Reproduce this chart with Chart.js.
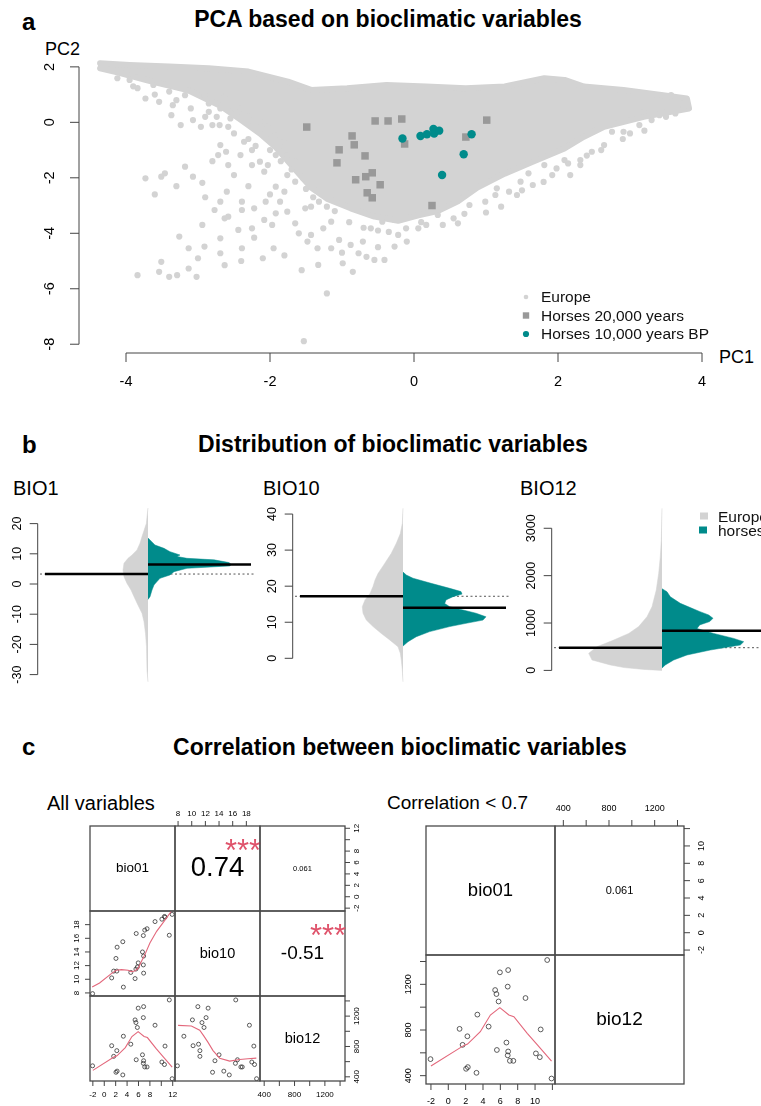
<!DOCTYPE html>
<html>
<head>
<meta charset="utf-8">
<script src="https://cdn.jsdelivr.net/npm/chart.js@4.4.1/dist/chart.umd.min.js"></script>
<style>
  html, body { margin: 0; padding: 0; background: #fff; }
  body { position: relative; width: 761px; height: 1106px; overflow: hidden;
         font-family: "Liberation Sans", Arial, sans-serif; }
  canvas { position: absolute; }
  .lbl { position: absolute; white-space: nowrap; color: #000; }
</style>
</head>
<body>
<script>
// ===== DATA =====

// --- a: PCA scores ---
// dense core of the European cloud (outline)
const europeCorePC1 = [-4.36, -3.95, -3.40, -2.85, -2.30, -1.75, -1.43, -0.93, -0.38, 0.17, 0.72, 1.26, 1.81, 2.09, 2.36, 2.91, 3.46, 3.79, 3.82,
  3.19, 2.64, 2.36, 2.09, 1.65, 1.26, 0.88, 0.61, 0.33, 0.06, -0.22, -0.55, -0.88, -1.21, -1.43, -1.65, -1.92, -2.14, -2.41, -2.69, -3.13, -3.68, -4.12, -4.36];
const europeCorePC2 = [2.13, 2.07, 2.01, 1.95, 1.83, 1.47, 1.17, 1.23, 1.35, 1.29, 1.23, 1.29, 1.59, 1.53, 1.29, 1.17, 0.98, 0.86, 0.50,
  0.20, -0.16, -0.52, -0.94, -1.42, -1.85, -2.35, -2.85, -3.20, -3.35, -3.55, -3.40, -3.10, -2.75, -2.35, -1.70, -0.90, -0.40, 0.10, 0.60, 1.15, 1.50, 1.80, 1.95];
// scattered European cells outside the core
const europePC1 = [-4.12, -3.84, -3.73, -3.54, -3.35, -3.37, -3.24, -3.07, -2.96, -2.80, -2.85, -2.69, -2.58, -2.55, -3.18, -3.51, -3.46, -3.73, -3.07, -2.94,
  -2.69, -2.72, -2.61, -2.41, -2.58, -2.36, -2.25, -2.14, -1.92, -2.03, -2.25, -2.08, -1.92, -1.76, -1.65, -1.54, -1.86, -2.06, -2.22, -2.39,
  -2.39, -2.69, -2.77, -2.58, -2.63, -2.94, -3.26, -3.13, -2.91, -2.69, -2.69, -2.44, -2.25, -2.08, -1.92, -1.76, -1.65, -1.51, -1.43, -1.32,
  -1.21, -1.15, -1.26, -1.43, -1.48, -1.34, -1.15, -1.04, -0.88, -0.77, -0.66, -0.55, -0.41, -0.71, -0.60, -0.44, -0.27, -0.22, -0.27, -0.11,
  0.06, 0.17, 0.33, 0.55, 0.61, 0.77, 0.99, 1.21, 1.13, 1.43, 1.32, 1.65, 1.92, 2.17, 2.31, 2.31, 2.14, 1.48, 1.15, -0.99,
  -0.85, -1.33, -1.56, -3.29, -3.40, -3.54, -3.84, -3.51, -3.13, -3.02, -2.63, -1.97, -1.95, -2.39, -2.22, -1.21, -1.53, 2.75, 2.91, 3.13,
  3.30, 3.41, 3.57, 3.74, 3.63, 3.19, 2.64, 2.47, 2.09, 1.98, 1.59, 1.81, -3.95, -3.62, -3.40, -3.18, -2.91, -2.63, -2.41, -2.30,
  -2.14, -2.03, -1.92, -1.81, -1.76, -1.65, -2.85, -2.74,
  -3.90, -3.60, -3.30, -3.10, -2.90, -2.70, -2.50, -2.30, -2.20, -2.00, -1.85, -1.70, -1.50, -1.40, -1.10, -0.90, -0.70, -0.50, -0.35, -0.10,
  0.10, 0.40, 0.70, 1.00, 1.50, 1.80, 2.40, 2.60, 2.90, 3.20, 3.50, 3.00, -2.80, -2.50, -2.30, -2.00, -1.80, -2.60, -3.30, -3.60,
  -2.90, -1.60, -1.80, -1.00, -0.50, -2.10, -2.40, -3.00];
const europePC2 = [1.59, 1.23, 0.86, 0.74, 0.62, 0.26, -0.10, 0.08, -0.16, -0.10, 0.68, 0.50, -0.16, 0.14, -1.60, -1.96, -1.84, -2.02, -1.96, -2.18,
  -0.82, -1.18, -1.06, -1.18, -1.54, -0.70, -1.00, -1.42, -1.18, -1.54, -1.54, -1.78, -2.32, -1.90, -2.14, -2.02, -2.86, -2.86, -3.10, -3.16,
  -2.86, -2.86, -3.16, -3.40, -3.46, -3.70, -4.12, -4.54, -4.48, -4.72, -4.18, -3.88, -3.82, -3.52, -3.28, -3.22, -3.64, -3.10, -3.04, -2.86,
  -3.04, -3.58, -3.82, -4.06, -4.30, -4.54, -4.54, -4.24, -4.42, -4.72, -4.85, -4.96, -4.96, -4.30, -3.82, -3.58, -3.52, -4.06, -4.48, -3.82,
  -3.82, -3.70, -3.34, -3.46, -3.64, -2.98, -2.86, -3.04, -2.62, -2.62, -2.50, -2.26, -1.90, -1.90, -1.54, -1.36, -1.48, -2.14, -2.38, -5.08,
  -5.39, -5.14, -5.33, -5.51, -5.57, -5.39, -5.51, -5.03, -5.27, -5.57, -5.15, -3.70, -4.54, -4.54, -4.16, -6.17, -7.89, -0.34, -0.34, -0.10,
  0.08, 0.26, 0.98, 0.50, 0.32, 0.38, -0.82, -1.06, -1.36, -1.66, -1.84, -1.54, 1.53, 1.35, 1.11, 0.98, 0.98, 0.92, 0.50, 0.20,
  0.02, -0.16, -0.46, -0.70, -1.18, -1.42, 0.38, 0.20,
  1.30, 1.00, 0.80, 0.50, 0.20, -0.10, -0.40, -0.60, -0.85, -1.00, -1.40, -1.70, -2.40, -2.70, -3.20, -3.60, -3.80, -3.90, -3.95, -4.30,
  -3.60, -3.70, -3.30, -3.25, -2.45, -2.15, -1.20, -1.00, -0.60, -0.30, 0.20, -0.40, -1.40, -1.90, -2.30, -2.60, -2.50, -2.50, -2.30, -2.60,
  -2.70, -4.00, -4.80, -4.70, -4.50, -4.90, -5.00, -4.90];
const horses20kPC1 = [-1.49, -0.54, -0.36, -0.17, -0.86, -0.83, -1.04, -0.68, -1.07, -0.81, -0.67, -0.58, -0.65, -0.58, -0.47, -0.13, 0.72, 1.01, 0.25];
const horses20kPC2 = [-0.17, 0.05, 0.05, 0.12, -0.49, -0.81, -0.99, -1.21, -1.46, -2.07, -1.96, -1.82, -2.54, -2.72, -2.25, -0.78, -0.53, 0.08, -3.00];
const horses10kPC1 = [-0.16, 0.09, 0.18, 0.27, 0.28, 0.35, 0.80, 0.69, 0.39];
const horses10kPC2 = [-0.58, -0.49, -0.43, -0.24, -0.40, -0.30, -0.43, -1.15, -1.90];
const pcaLegendLabels = ['Europe', 'Horses 20,000 years', 'Horses 10,000 years BP'];
const pc1Ticks = [-4, -2, 0, 2, 4];
const pc2Ticks = [-8, -6, -4, -2, 0, 2];

// --- b: split density (half-width, relative units) per value ---
const bio1EuropeVal  = [25.2, 20, 15.7, 13.5, 11.3, 9.6, 8.5, 6.9, 4.6, 2.4, 0.2, -2, -4.2, -7, -9.7, -12.5, -16.4, -20.8, -28.5, -32.4];
const bio1EuropeDens = [0, 1.7, 6, 8, 11, 16, 20, 24, 25, 24, 21, 17, 14, 10, 6, 4, 2.5, 1.5, 1, 0];
const bio1HorseVal   = [15.2, 14.6, 12.9, 11.8, 10.7, 9.6, 9.1, 8.5, 8.0, 7.1, 6.5, 6.0, 5.2, 4.1, 3.0, 1.9, 0.8, -0.3, -2.0, -4.2, -5.1];
const bio1HorseDens  = [0, 2, 7, 16, 22, 32, 29, 39, 66, 81, 83, 82, 39, 26, 22, 12, 9, 6, 4, 2, 0];
const bio10EuropeVal  = [41.6, 37.4, 34.6, 31.9, 29.1, 26.3, 23.5, 21.7, 19.9, 18.0, 16.2, 14.3, 12.5, 10.6, 8.8, 6.9, 5.1, 3.2, 1.4, -0.5, -3.2, -6.5];
const bio10EuropeDens = [0, 0.7, 2.7, 6.7, 11.7, 18.3, 25, 28, 30, 33, 38, 40.7, 40, 36.7, 30, 21.7, 13.3, 5, 2.7, 1.7, 0.7, 0];
const bio10HorseVal   = [23.9, 23.1, 22.2, 20.8, 19.4, 18.5, 17.8, 17.1, 16.2, 15.2, 14.3, 13.4, 12.5, 11.5, 10.6, 9.7, 8.8, 7.4, 6.0, 4.6, 3.4];
const bio10HorseDens  = [0, 3.3, 10, 28, 46.7, 58, 59, 50, 43, 41.7, 46.7, 60, 73, 83, 80, 63, 46.7, 26.7, 13.3, 5, 0];
const bio12EuropeVal  = [3420, 2750, 2400, 2050, 1700, 1345, 1135, 925, 780, 640, 500, 360, 220, 115, 60, 20, 0];
const bio12EuropeDens = [0, 0.7, 1.7, 3.3, 5.7, 10, 15, 23.3, 33.3, 48.3, 65, 73.3, 70, 51.7, 38, 18, 0];
const bio12HorseVal   = [1725, 1660, 1555, 1415, 1310, 1240, 1170, 1100, 1030, 960, 885, 780, 675, 605, 535, 430, 325, 220, 115, 50];
const bio12HorseDens  = [0, 5, 8.3, 18.3, 30, 38, 46.7, 51, 47.7, 37.7, 35, 51.7, 71.7, 81.7, 78.3, 48.3, 25, 11.7, 3.3, 0];
const europeMeans = [3.3, 17.2, 479];
const horseMeans  = [6.5, 14.0, 838];
const violinLegendLabels = ['Europe', 'horses'];
const bio1ViolinTicks  = [-30, -20, -10, 0, 10, 20];
const bio10ViolinTicks = [0, 10, 20, 30, 40];
const bio12ViolinTicks = [0, 1000, 2000, 3000];

// --- c: horse sites ---
const bio01 = [-2.05, 1.3, 1.65, 2.05, 2.2, 2.25, 3.25, 3.35, 4.65, 5.4, 5.55, 5.6, 5.8, 5.95, 6.7, 6.85, 6.85, 6.9, 6.9, 7.1, 7.5, 8.9, 10.1, 10.55, 10.65, 11.4, 11.9];
const bio10 = [7.9, 10.2, 11.2, 13.05, 11.2, 14.7, 15.5, 8.85, 11.0, 10.1, 11.5, 16.7, 11.8, 12.4, 14.0, 12.1, 16.4, 10.9, 13.4, 17.2, 17.4, 18.45, 18.8, 19.2, 19.1, 16.45, 19.5];
const bio12 = [545, 810, 670, 460, 745, 475, 425, 935, 830, 1150, 1115, 625, 1050, 1305, 690, 1180, 578, 1325, 612, 530, 530, 1080, 595, 562, 805, 1413, 375];
// smoothers as drawn in the panels
const smooth0110X = [-2.12, -0.82, 1.24, 2.12, 3.0, 4.18, 4.76, 5.35, 5.94, 6.53, 7.12, 8.0, 9.18, 10.35, 11.53, 11.82];
const smooth0110Y = [8.88, 9.46, 10.83, 11.32, 11.41, 11.32, 11.12, 11.22, 11.61, 12.63, 13.61, 15.32, 17.02, 18.34, 19.71, 20.1];
const smooth0112X = [-2.0, 1.76, 2.22, 3.69, 4.85, 5.94, 6.98, 7.56, 9.1, 10.27, 11.9];
const smooth0112Y = [485, 663, 677, 785, 931, 996, 931, 917, 771, 669, 528];
const smooth1012X = [8.0, 9.95, 11.17, 11.76, 12.39, 13.12, 14.1, 15.56, 17.02, 18.24, 19.46];
const smooth1012Y = [1078, 1070, 1014, 940, 854, 746, 646, 607, 629, 638, 646];
const corrLabels = ['0.74', '0.061', '-0.51'];     // bio01-bio10, bio01-bio12, bio10-bio12
const corrStars  = ['***', '', '***'];
const bio01Ticks = [-2, 0, 2, 4, 6, 8, 10, 12];
const bio01TickLabelsA = ['-2', '0', '2', '4', '6', '8', '', '12'];
const bio01TickLabelsB = ['-2', '0', '2', '4', '6', '8', '10', ''];
const bio10Ticks = [8, 10, 12, 14, 16, 18];
const bio12Ticks = [400, 600, 800, 1000, 1200, 1400];
const bio12TickLabels = ['400', '', '800', '', '1200', ''];

// ===== STYLE =====
const FONT = '"Liberation Sans", Arial, sans-serif';
const LIGHT = '#D3D3D3';
const TEAL = '#008B8B';
const SQUARE = '#999999';
const AXIS = '#444444';
const SMOOTH = '#E3677B';
const STAR = '#DF536B';
Chart.defaults.font.family = FONT;

// ===== HELPERS =====
function xy(xs, ys) { return xs.map((x, i) => ({ x, y: ys[i] })); }
function halfViolin(vals, dens, side) { return vals.map((v, i) => ({ x: side * dens[i], y: v })); }

function addText(text, x, baseline, size, opts = {}) {
  const d = document.createElement('div');
  d.className = 'lbl';
  d.textContent = text;
  d.style.font = `${opts.bold ? 'bold ' : ''}${size}px ${FONT}`;
  d.style.lineHeight = '0';
  d.style.left = x + 'px';
  d.style.top = (baseline - 0.3465 * size) + 'px';
  if (opts.center) d.style.transform = 'translateX(-50%)';
  document.body.appendChild(d);
}

function addCanvas(left, top, width, height) {
  const c = document.createElement('canvas');
  c.width = width; c.height = height;
  c.style.left = left + 'px'; c.style.top = top + 'px';
  c.style.width = width + 'px'; c.style.height = height + 'px';
  document.body.appendChild(c);
  return c;
}

function baseOptions(padding, xr, yr) {
  return {
    responsive: false, animation: false, events: [],
    layout: { padding },
    plugins: { legend: { display: false }, tooltip: { enabled: false } },
    scales: {
      x: { type: 'linear', display: false, min: xr[0], max: xr[1] },
      y: { type: 'linear', display: false, min: yr[0], max: yr[1] },
    },
  };
}

// R-like axes: line only across the tick range, rotated labels on vertical sides
function rAxes(list) {
  return {
    id: 'rAxes',
    afterDatasetsDraw(chart) {
      const { ctx, chartArea: a } = chart;
      list.forEach(ax => {
        const vertical = ax.side === 'left' || ax.side === 'right';
        const scale = chart.scales[vertical ? 'y' : 'x'];
        const dir = (ax.side === 'left' || ax.side === 'top') ? -1 : 1;
        const base = ax.side === 'left' ? a.left - ax.offset
          : ax.side === 'right' ? a.right + ax.offset
          : ax.side === 'top' ? a.top - ax.offset : a.bottom + ax.offset;
        const pos = ax.ticks.map(v => scale.getPixelForValue(v));
        ctx.save();
        ctx.strokeStyle = AXIS;
        ctx.lineWidth = ax.lineWidth || 1;
        ctx.beginPath();
        if (ax.line !== false) {
          if (vertical) { ctx.moveTo(base, pos[0]); ctx.lineTo(base, pos[pos.length - 1]); }
          else { ctx.moveTo(pos[0], base); ctx.lineTo(pos[pos.length - 1], base); }
        }
        pos.forEach(p => {
          if (vertical) { ctx.moveTo(base, p); ctx.lineTo(base + dir * ax.tick, p); }
          else { ctx.moveTo(p, base); ctx.lineTo(p, base + dir * ax.tick); }
        });
        ctx.stroke();
        ctx.fillStyle = '#000';
        ctx.font = ax.font;
        ctx.textAlign = 'center';
        ctx.textBaseline = 'middle';
        pos.forEach((p, i) => {
          const lab = ax.labels[i];
          if (!lab) return;
          if (vertical) {
            ctx.save();
            ctx.translate(base + dir * ax.gap, p);
            ctx.rotate(-Math.PI / 2);
            ctx.fillText(lab, 0, 0);
            ctx.restore();
          } else {
            ctx.fillText(lab, p, base + dir * ax.gap);
          }
        });
        ctx.restore();
      });
    },
  };
}

// text placed in panel (0..1) coordinates, like R's usr = c(0,1,0,1)
function cellText(items) {
  return {
    id: 'cellText',
    afterDatasetsDraw(chart) {
      const { ctx, chartArea: a } = chart;
      ctx.save();
      ctx.textAlign = 'center';
      ctx.textBaseline = 'middle';
      items.forEach(t => {
        if (!t.text) return;
        ctx.font = `${t.size}px ${FONT}`;
        ctx.fillStyle = t.color || '#000';
        const x = a.left + t.fx * (a.right - a.left);
        const y = a.bottom - t.fy * (a.bottom - a.top) + (t.dy || 0);
        ctx.fillText(t.text, x, y);
      });
      ctx.restore();
    },
  };
}

const cellFrame = {
  id: 'cellFrame',
  afterDatasetsDraw(chart) {
    const { ctx, chartArea: a } = chart;
    ctx.save();
    ctx.strokeStyle = '#4a4a4a';
    ctx.lineWidth = 1.3;
    ctx.strokeRect(a.left, a.top, a.right - a.left, a.bottom - a.top);
    ctx.restore();
  },
};

// ===== TITLES =====
addText('a', 22, 30, 24, { bold: true });
addText('PCA based on bioclimatic variables', 388, 27, 23, { bold: true, center: true });
addText('PC2', 45, 55, 18);
addText('PC1', 719, 363, 18);
addText('b', 22, 453, 24, { bold: true });
addText('Distribution of bioclimatic variables', 393, 452, 23, { bold: true, center: true });
addText('BIO1', 13, 495, 20);
addText('BIO10', 263, 495, 20);
addText('BIO12', 520, 495, 20);
addText('c', 22, 755, 24, { bold: true });
addText('Correlation between bioclimatic variables', 400, 755, 23, { bold: true, center: true });
addText('All variables', 47, 810, 20);
addText('Correlation < 0.7', 387, 810, 19);

// ===== a: PCA =====
const pcaLegend = {
  id: 'pcaLegend',
  afterDraw(chart) {
    const ctx = chart.ctx;
    const rows = [297, 315.5, 334];
    ctx.save();
    ctx.font = `15.5px ${FONT}`;
    ctx.textBaseline = 'alphabetic';
    ctx.fillStyle = LIGHT;
    ctx.beginPath(); ctx.arc(526, rows[0], 2.3, 0, Math.PI * 2); ctx.fill();
    ctx.fillStyle = SQUARE;
    ctx.fillRect(522.8, rows[1] - 3.2, 6.4, 6.4);
    ctx.fillStyle = TEAL;
    ctx.beginPath(); ctx.arc(526, rows[2], 3.1, 0, Math.PI * 2); ctx.fill();
    ctx.fillStyle = '#111';
    pcaLegendLabels.forEach((t, i) => ctx.fillText(t, 541, rows[i] + 5));
    ctx.restore();
  },
};

new Chart(addCanvas(0, 0, 761, 400), {
  type: 'scatter',
  data: {
    datasets: [
      { label: pcaLegendLabels[2], data: xy(horses10kPC1, horses10kPC2), pointStyle: 'circle', pointRadius: 4.2, backgroundColor: TEAL, borderWidth: 0 },
      { label: pcaLegendLabels[1], data: xy(horses20kPC1, horses20kPC2), pointStyle: 'rect', pointRadius: 5.3, backgroundColor: SQUARE, borderWidth: 0 },
      { label: pcaLegendLabels[0], data: xy(europePC1, europePC2), pointRadius: 3.1, backgroundColor: LIGHT, borderWidth: 0 },
      { type: 'line', data: xy(europeCorePC1, europeCorePC2), fill: 'shape', backgroundColor: LIGHT, borderColor: LIGHT,
        borderWidth: 6, borderJoinStyle: 'round', borderCapStyle: 'round', pointRadius: 0, tension: 0 },
    ],
  },
  options: baseOptions({ left: 90, right: 41, top: 53, bottom: 53 }, [-4.5, 4.25], [-8.1, 2.5]),
  plugins: [
    rAxes([
      { side: 'left', ticks: pc2Ticks, labels: pc2Ticks.map(String), offset: 11, tick: 9, gap: 29, font: `14.5px ${FONT}` },
      { side: 'bottom', ticks: pc1Ticks, labels: pc1Ticks.map(String), offset: 6, tick: 9, gap: 29, font: `14.5px ${FONT}` },
    ]),
    pcaLegend,
  ],
});

// ===== b: split violins =====
const BEAN = 103;
const OVERALL = 108;

function shape(data, color) {
  return { type: 'line', data, fill: 'shape', backgroundColor: color, borderColor: color, borderWidth: 0.5, pointRadius: 0, tension: 0 };
}
function hline(x0, x1, y, color, width, dash) {
  return { type: 'line', data: [{ x: x0, y }, { x: x1, y }], borderColor: color, borderWidth: width, borderDash: dash || [], pointRadius: 0, fill: false };
}

const violinLegend = {
  id: 'violinLegend',
  afterDraw(chart) {
    const ctx = chart.ctx;
    ctx.save();
    ctx.font = `15.5px ${FONT}`;
    ctx.fillStyle = LIGHT; ctx.fillRect(186, 22.5, 8, 7);
    ctx.fillStyle = TEAL; ctx.fillRect(185, 36.5, 8, 7);
    ctx.fillStyle = '#111';
    ctx.fillText(violinLegendLabels[0], 204, 31.5);
    ctx.fillText(violinLegendLabels[1], 204, 46);
    ctx.restore();
  },
};

function drawViolin(cfg) {
  const datasets = [
    hline(-BEAN, 0, cfg.meanEurope, '#000', 2.5),
    hline(0, BEAN, cfg.meanHorse, '#000', 2.5),
    shape(halfViolin(cfg.horseVal, cfg.horseDens, 1), TEAL),
    shape(halfViolin(cfg.europeVal, cfg.europeDens, -1), LIGHT),
    hline(-OVERALL, OVERALL, cfg.meanEurope, '#555', 1, [2, 2.5]),
  ];
  const plugins = [rAxes([{ side: 'left', ticks: cfg.ticks, labels: cfg.ticks.map(String), offset: 2.3, tick: 8, gap: 20.5, font: `12.5px ${FONT}` }])];
  if (cfg.legend) plugins.push(violinLegend);
  new Chart(addCanvas(cfg.left, 490, cfg.width, 200), {
    type: 'line',
    data: { datasets },
    options: baseOptions({ left: 40, right: cfg.padRight, top: 18, bottom: 8 }, [-OVERALL, cfg.xMax], cfg.yRange),
    plugins,
  });
}

drawViolin({ left: 0, width: 260, padRight: 4, xMax: OVERALL, yRange: [-32.45, 25.17], ticks: bio1ViolinTicks,
  europeVal: bio1EuropeVal, europeDens: bio1EuropeDens, horseVal: bio1HorseVal, horseDens: bio1HorseDens,
  meanEurope: europeMeans[0], meanHorse: horseMeans[0] });
drawViolin({ left: 255, width: 260, padRight: 4, xMax: OVERALL, yRange: [-6.57, 41.68], ticks: bio10ViolinTicks,
  europeVal: bio10EuropeVal, europeDens: bio10EuropeDens, horseVal: bio10HorseVal, horseDens: bio10HorseDens,
  meanEurope: europeMeans[1], meanHorse: horseMeans[1] });
drawViolin({ left: 514, width: 247, padRight: 0, xMax: 99, yRange: [-245, 3428], ticks: bio12ViolinTicks,
  europeVal: bio12EuropeVal, europeDens: bio12EuropeDens, horseVal: bio12HorseVal, horseDens: bio12HorseDens,
  meanEurope: europeMeans[2], meanHorse: horseMeans[2], legend: true });

// ===== c: pairs matrices =====
function pairCell(m, i, j, spec) {
  const P = 32;
  const left = m.left + j * m.size;
  const top = m.top + i * m.size;
  const datasets = [];
  if (spec.smooth) {
    datasets.push({ type: 'line', data: spec.smooth, borderColor: SMOOTH, borderWidth: 1.1, pointRadius: 0, fill: false, tension: 0 });
  }
  if (spec.points) {
    datasets.push({ type: 'scatter', data: spec.points, pointRadius: m.radius, backgroundColor: 'rgba(0,0,0,0)', borderColor: '#333', borderWidth: 0.8 });
  }
  new Chart(addCanvas(left - P, top - P, m.size + 2 * P, m.size + 2 * P), {
    type: 'scatter',
    data: { datasets },
    options: baseOptions({ left: P, right: P, top: P, bottom: P }, m.ranges[j], m.ranges[i]),
    plugins: [cellFrame, rAxes(spec.axes || []), cellText(spec.texts || [])],
  });
}

// All variables: bio01, bio10, bio12
const matA = { left: 90, top: 826, size: 85, radius: 2, ranges: [[-2.5, 12.4], [7.55, 20.0], [345, 1465]] };
const fA = `8px ${FONT}`;
pairCell(matA, 0, 0, { texts: [{ text: 'bio01', fx: 0.5, fy: 0.5, size: 13.5 }] });
pairCell(matA, 0, 1, {
  texts: [{ text: corrLabels[0], fx: 0.5, fy: 0.5, size: 27.5 }, { text: corrStars[0], fx: 0.8, fy: 0.8, size: 31, color: STAR, dy: 9 }],
  axes: [{ side: 'top', ticks: bio10Ticks, labels: bio10Ticks.map(String), offset: 0, tick: 5, gap: 12.5, font: fA, line: false }],
});
pairCell(matA, 0, 2, {
  texts: [{ text: corrLabels[1], fx: 0.5, fy: 0.5, size: 7.5 }, { text: corrStars[1], fx: 0.8, fy: 0.8, size: 31, color: STAR, dy: 9 }],
  axes: [{ side: 'right', ticks: bio01Ticks, labels: bio01TickLabelsA, offset: 0, tick: 5, gap: 12, font: fA, line: false }],
});
pairCell(matA, 1, 0, {
  points: xy(bio01, bio10), smooth: xy(smooth0110X, smooth0110Y),
  axes: [{ side: 'left', ticks: bio10Ticks, labels: bio10Ticks.map(String), offset: 0, tick: 5, gap: 13, font: fA, line: false }],
});
pairCell(matA, 1, 1, { texts: [{ text: 'bio10', fx: 0.5, fy: 0.5, size: 14.5 }] });
pairCell(matA, 1, 2, {
  texts: [{ text: corrLabels[2], fx: 0.5, fy: 0.5, size: 19 }, { text: corrStars[2], fx: 0.8, fy: 0.8, size: 31, color: STAR, dy: 9 }],
});
pairCell(matA, 2, 0, {
  points: xy(bio01, bio12), smooth: xy(smooth0112X, smooth0112Y),
  axes: [{ side: 'bottom', ticks: bio01Ticks, labels: bio01TickLabelsA, offset: 0, tick: 5, gap: 14, font: fA, line: false }],
});
pairCell(matA, 2, 1, { points: xy(bio10, bio12), smooth: xy(smooth1012X, smooth1012Y) });
pairCell(matA, 2, 2, {
  texts: [{ text: 'bio12', fx: 0.5, fy: 0.5, size: 14.5 }],
  axes: [
    { side: 'bottom', ticks: bio12Ticks, labels: bio12TickLabels, offset: 0, tick: 5, gap: 14, font: fA, line: false },
    { side: 'right', ticks: bio12Ticks, labels: bio12TickLabels, offset: 0, tick: 5, gap: 12, font: fA, line: false },
  ],
});

// Correlation < 0.7: bio01, bio12
const matB = { left: 426, top: 826, size: 129, radius: 2.4, ranges: [[-2.57, 12.3], [327, 1457]] };
const fB = `9px ${FONT}`;
pairCell(matB, 0, 0, { texts: [{ text: 'bio01', fx: 0.5, fy: 0.5, size: 18.5 }] });
pairCell(matB, 0, 1, {
  texts: [{ text: corrLabels[1], fx: 0.5, fy: 0.5, size: 11 }],
  axes: [
    { side: 'top', ticks: bio12Ticks, labels: bio12TickLabels, offset: 0, tick: 6, gap: 17, font: fB, line: false },
    { side: 'right', ticks: bio01Ticks, labels: bio01TickLabelsB, offset: 0, tick: 6, gap: 18, font: fB, line: false },
  ],
});
pairCell(matB, 1, 0, {
  points: xy(bio01, bio12), smooth: xy(smooth0112X, smooth0112Y),
  axes: [
    { side: 'left', ticks: bio12Ticks, labels: bio12TickLabels, offset: 0, tick: 6, gap: 17, font: fB, line: false },
    { side: 'bottom', ticks: bio01Ticks, labels: bio01TickLabelsB, offset: 0, tick: 6, gap: 18, font: fB, line: false },
  ],
});
pairCell(matB, 1, 1, { texts: [{ text: 'bio12', fx: 0.5, fy: 0.5, size: 19 }] });
</script>
</body>
</html>
